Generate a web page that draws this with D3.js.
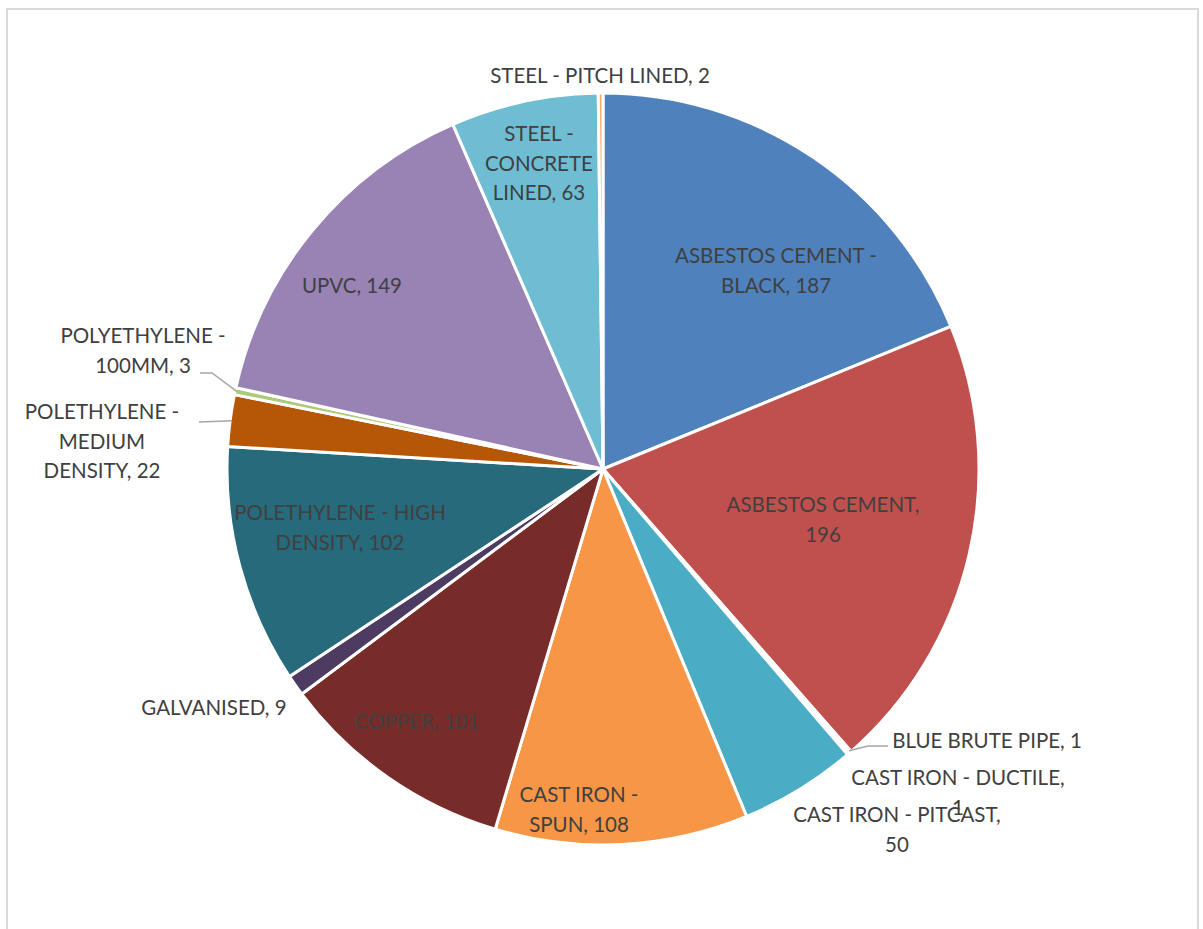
<!DOCTYPE html>
<html>
<head>
<meta charset="utf-8">
<script src="https://cdn.jsdelivr.net/npm/d3@7"></script>
<style>
html,body{margin:0;padding:0;background:#fff;}
svg{display:block;}
</style>
</head>
<body>
<svg id="chart" width="1203" height="929"></svg>
<script>
const categories = ["ASBESTOS CEMENT - BLACK","ASBESTOS CEMENT","BLUE BRUTE PIPE","CAST IRON - DUCTILE","CAST IRON - PITCAST","CAST IRON - SPUN","COPPER","GALVANISED","POLETHYLENE - HIGH DENSITY","POLETHYLENE - MEDIUM DENSITY","POLYETHYLENE - 100MM","UPVC","STEEL - CONCRETE LINED","STEEL - PITCH LINED"];
const values = [187,196,1,1,50,108,101,9,102,22,3,149,63,2];
const colors = ["#4F81BD","#C0504D","#9BBB59","#8064A2","#4BACC6","#F79646","#772C2A","#4D3B62","#276A7C","#B65708","#AFC97A","#9983B5","#6FBDD3","#F9AB6B"];
const labelLines = [
  ["ASBESTOS CEMENT -","BLACK, 187"],
  ["ASBESTOS CEMENT,","196"],
  ["BLUE BRUTE PIPE, 1"],
  ["CAST IRON - DUCTILE,","1"],
  ["CAST IRON - PITCAST,","50"],
  ["CAST IRON -","SPUN, 108"],
  ["COPPER, 101"],
  ["GALVANISED, 9"],
  ["POLETHYLENE - HIGH","DENSITY, 102"],
  ["POLETHYLENE -","MEDIUM","DENSITY, 22"],
  ["POLYETHYLENE -","100MM, 3"],
  ["UPVC, 149"],
  ["STEEL -","CONCRETE","LINED, 63"],
  ["STEEL - PITCH LINED, 2"]
];
// layout: label block centre (x, first-line y)
const labelPos = [
  [776,256],[823,505],[987,741],[958,778],[897,815],[579,795],[417,722],[214,708],
  [340,513],[102,412],[143,336],[352,286],[539,134],[600,76]
];
const leaders = {
  2:[[888,746],[868,746]],
  9:[[199,422]],
  10:[[200,373],[212,373]]
};

const svg = d3.select("#chart");
svg.append("rect").attr("x",7).attr("y",9).attr("width",1191).attr("height",940)
  .attr("fill","#fff").attr("stroke","#d9d9d9").attr("stroke-width",2);

const cx = 603, cy = 469, R = 376;
const g = svg.append("g").attr("transform",`translate(${cx},${cy})`);
const data = categories.map((c,i)=>({c,v:values[i],i}));
const pie = d3.pie().value(d=>d.v).sort(null);
const arcs = pie(data);
const arc = d3.arc().innerRadius(0).outerRadius(R);

g.selectAll("path.slice").data(arcs).join("path")
  .attr("class","slice")
  .attr("d",arc)
  .attr("fill",d=>colors[d.data.i])
  .attr("stroke","#fff").attr("stroke-width",3).attr("stroke-linejoin","round");

const font = "Lato, 'Open Sans', sans-serif";
const fs = 20.5, lh = 29.5;

arcs.forEach(a=>{
  const i = a.data.i;
  if(!leaders[i]) return;
  const mid = (a.startAngle+a.endAngle)/2;
  const end = [cx + Math.sin(mid)*(R-2), cy - Math.cos(mid)*(R-2)];
  const pts = leaders[i].concat([end]);
  svg.append("path").attr("d",d3.line()(pts)).attr("fill","none")
    .attr("stroke","#a6a6a6").attr("stroke-width",1.5);
});

arcs.forEach(a=>{
  const i = a.data.i;
  const lines = labelLines[i];
  const [x,y] = labelPos[i];
  const t = svg.append("text").attr("font-family",font).attr("font-size",fs)
    .attr("fill","#404040").attr("text-anchor","middle");
  lines.forEach((s,k)=>{
    t.append("tspan").attr("x",x).attr("y",y + k*lh).attr("dy","0.35em").text(s);
  });
});
</script>
</body>
</html>
